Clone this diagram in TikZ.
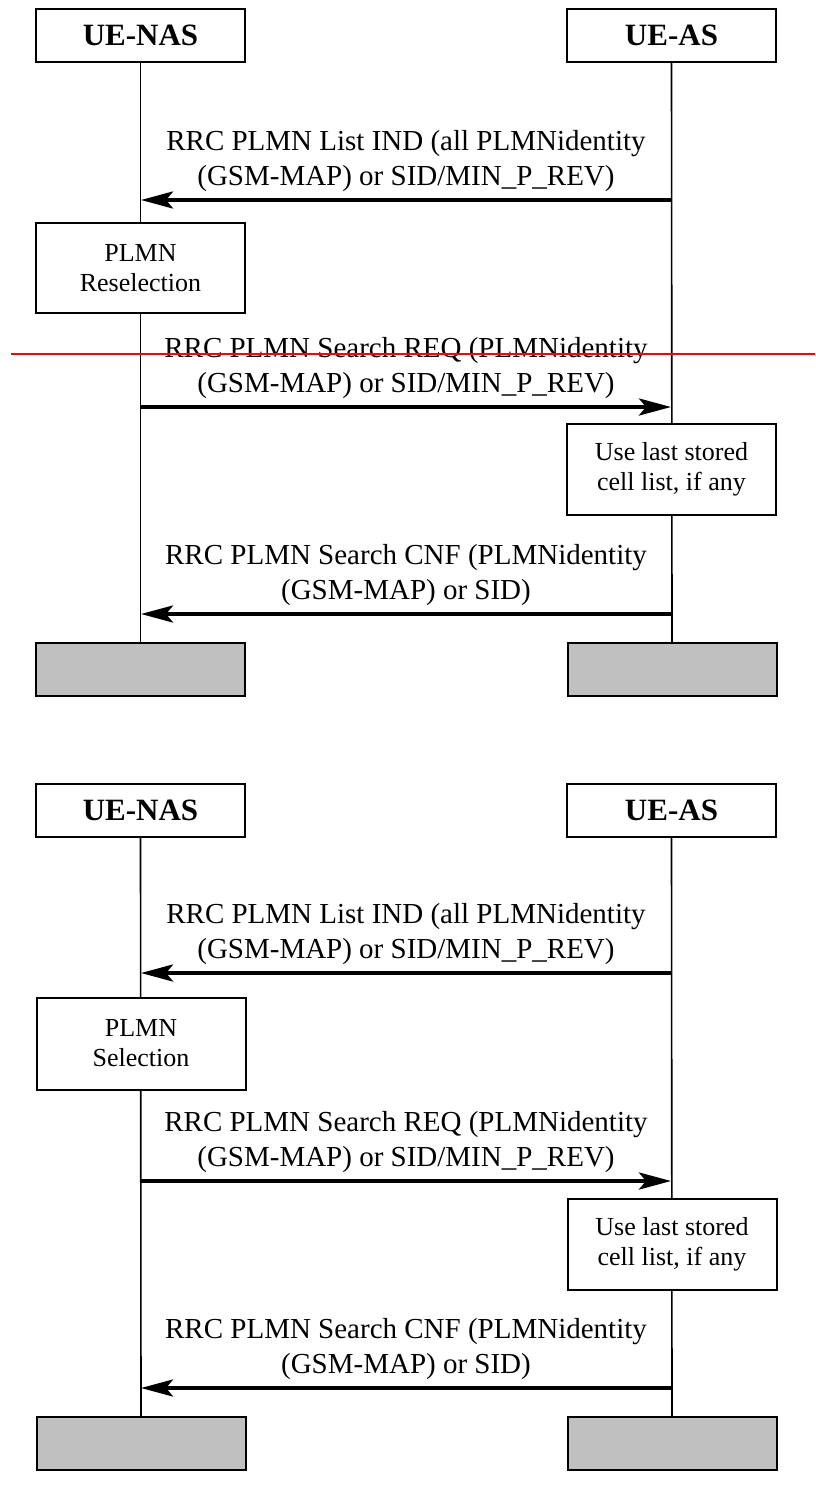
\documentclass[tikz,border=0pt]{standalone}
\usepackage{fontspec}
\setmainfont{Liberation Serif}
\usetikzlibrary{arrows.meta}
\definecolor{boxgray}{HTML}{C0C0C0}
\definecolor{strike}{HTML}{FF0000}
\begin{document}
\begin{tikzpicture}[x=1pt,y=-1pt,
  hdr/.style={draw=black,line width=2pt,fill=white,minimum width=209pt,minimum height=53pt,inner sep=0pt,
    font=\fontsize{31}{36}\selectfont\bfseries},
  endbox/.style={draw=black,line width=2pt,fill=boxgray,minimum width=209pt,minimum height=53pt,inner sep=0pt},
  procbox/.style={draw=black,line width=2pt,fill=white,minimum width=209pt,inner sep=0pt,align=center,
    font=\fontsize{26}{30}\selectfont},
  life/.style={line width=1.6pt},
  msg/.style={line width=4pt,-{Stealth[length=32pt,width=17pt,inset=7pt]}},
  lbl/.style={align=center,inner sep=0pt,font=\fontsize{29}{35}\selectfont}
]
\useasboundingbox (0,0) rectangle (815,1499);

% ---------- top diagram ----------
\node[hdr] (a-nas) at (140.5,35.5) {UE-NAS};
\node[hdr] (a-as) at (671.5,35.5) {UE-AS};
\node[endbox] (a-nasend) at (140.5,669.5) {};
\node[endbox] (a-asend) at (672,669.5) {};
\draw[life] (a-nas.south) -- (a-nasend.north);
\draw[life] (a-as.south) -- (a-asend.north);

\node[procbox,minimum height=90pt] (a-sel) at (140.5,268) {PLMN\\Reselection};
\node[procbox,minimum height=91pt] (a-use) at (671.5,469.5) {Use last stored\\cell list, if any};

\coordinate (a-l1) at (141,200);
\coordinate (a-r1) at (671,200);
\coordinate (a-l2) at (141,407);
\coordinate (a-r2) at (671,407);
\coordinate (a-l3) at (141,614);
\coordinate (a-r3) at (671,614);

\draw[msg] (a-r1) -- node[lbl,midway,above=6pt] {RRC PLMN List IND (all PLMNidentity\\(GSM-MAP) or SID/MIN\_P\_REV)} (a-l1);
\draw[msg] (a-l2) -- node[lbl,midway,above=6pt] {RRC PLMN Search REQ (PLMNidentity\\(GSM-MAP) or SID/MIN\_P\_REV)} (a-r2);
\draw[msg] (a-r3) -- node[lbl,midway,above=6pt] {RRC PLMN Search CNF (PLMNidentity\\(GSM-MAP) or SID)} (a-l3);

\coordinate (red-a) at (11,354);
\coordinate (red-b) at (815,354);
\draw[strike,line width=2pt] (red-a) -- (red-b);

% ---------- bottom diagram ----------
\node[hdr] (b-nas) at (140.5,810) {UE-NAS};
\node[hdr] (b-as) at (671.5,810) {UE-AS};
\node[endbox] (b-nasend) at (141,1443.5) {};
\node[endbox] (b-asend) at (672,1443.5) {};
\draw[life] (b-nas.south) -- (b-nasend.north);
\draw[life] (b-as.south) -- (b-asend.north);

\node[procbox,minimum height=92pt] (b-sel) at (141,1043.5) {PLMN\\Selection};
\node[procbox,minimum height=91pt] (b-use) at (672,1244.5) {Use last stored\\cell list, if any};

\coordinate (b-l1) at (141,973);
\coordinate (b-r1) at (671,973);
\coordinate (b-l2) at (141,1181);
\coordinate (b-r2) at (671,1181);
\coordinate (b-l3) at (141,1388);
\coordinate (b-r3) at (671,1388);

\draw[msg] (b-r1) -- node[lbl,midway,above=6pt] {RRC PLMN List IND (all PLMNidentity\\(GSM-MAP) or SID/MIN\_P\_REV)} (b-l1);
\draw[msg] (b-l2) -- node[lbl,midway,above=6pt] {RRC PLMN Search REQ (PLMNidentity\\(GSM-MAP) or SID/MIN\_P\_REV)} (b-r2);
\draw[msg] (b-r3) -- node[lbl,midway,above=6pt] {RRC PLMN Search CNF (PLMNidentity\\(GSM-MAP) or SID)} (b-l3);
\end{tikzpicture}
\end{document}
